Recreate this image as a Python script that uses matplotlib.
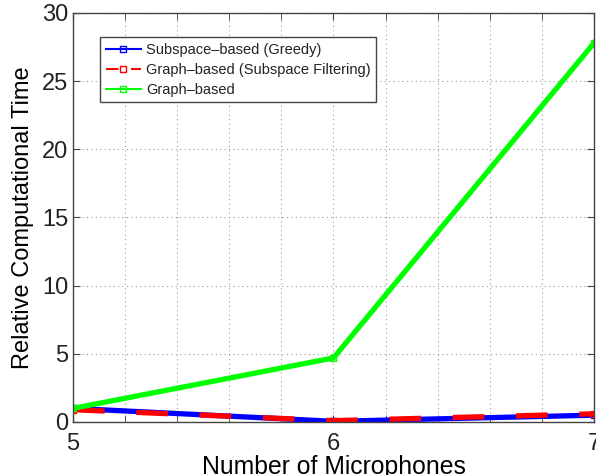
import matplotlib
matplotlib.use('Agg')
import numpy as np
import matplotlib.pyplot as plt

# Data
mics = [5, 6, 7]
greedy = [1.0, 0.05, 0.5]
subspace_filter = [0.9, 0.1, 0.6]
graph = [1.0, 4.7, 27.8]

plt.rcParams['font.family'] = ['Liberation Sans', 'DejaVu Sans']
plt.rcParams['text.color'] = '#222222'

fig = plt.figure(figsize=(5.96, 4.75), dpi=100)
ax = fig.add_axes([73 / 596, 53 / 475, 521 / 596, 409 / 475])

ax.plot(mics, greedy, color='#0000ff', lw=3.8, marker='s', ms=5,
        mfc='none', mec='#0000ff', mew=1, label='Subspace\u2013based (Greedy)')
ax.plot(mics, subspace_filter, color='#ff0000', lw=3.8, ls=(0, (6, 6)), marker='s', ms=5,
        mfc='none', mec='#ff0000', mew=1, label='Graph\u2013based (Subspace Filtering)')
ax.plot(mics, graph, color='#00ff00', lw=3.8, marker='s', ms=5,
        mfc='none', mec='#00ff00', mew=1, label='Graph\u2013based')

ax.set_xlim(5, 7)
ax.set_ylim(0, 30)
ax.set_xticks(np.arange(5, 7.01, 0.2), minor=True)
ax.set_xticks([5, 6, 7])
ax.set_yticks(np.arange(0, 31, 5))
ax.grid(True, which='both', axis='x', ls=(0, (1, 3)), color='#999999', lw=0.8)
ax.grid(True, which='major', axis='y', ls=(0, (1, 3)), color='#999999', lw=0.8)
ax.tick_params(which='both', direction='in', top=True, right=True, labelsize=17,
               color='#444444', labelcolor='#222222', length=5)
ax.tick_params(axis='x', which='major', pad=8)
ax.tick_params(which='minor', length=5)
for s in ax.spines.values():
    s.set_color('#444444')
    s.set_linewidth(1)

ax.set_xlabel('Number of Microphones', fontsize=17.8, labelpad=0)
ax.set_ylabel('Relative Computational Time', fontsize=17, labelpad=6)

leg = ax.legend(loc='upper left', bbox_to_anchor=(0.052, 0.941), fontsize=10.5,
                frameon=True, fancybox=False, edgecolor='#444444', framealpha=1,
                handlelength=2.4, borderpad=0.4, labelspacing=0.4, handletextpad=0.35,
                borderaxespad=0)
leg.get_frame().set_linewidth(1)
for line in leg.get_lines():
    line.set_linewidth(1.5)

fig.savefig('out.png', dpi=100)
